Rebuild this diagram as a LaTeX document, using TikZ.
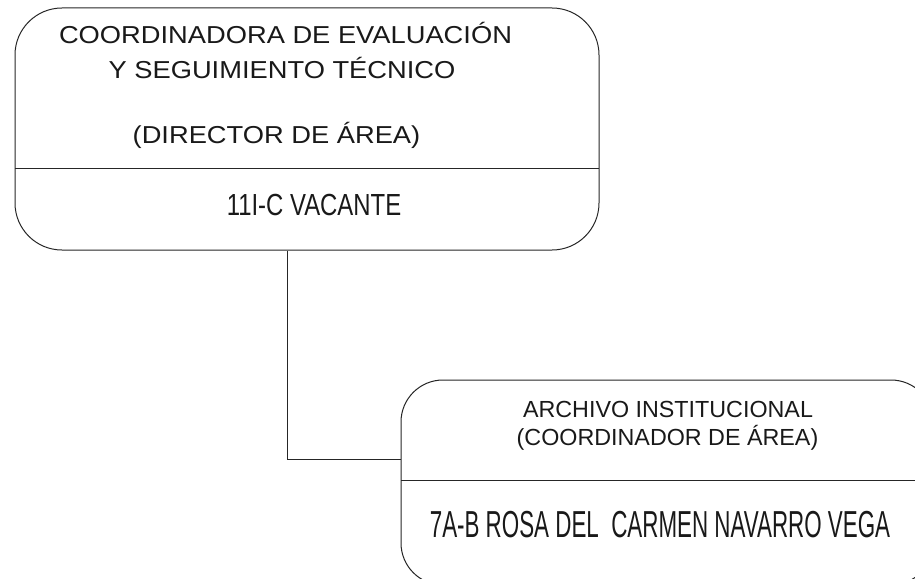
\documentclass[tikz,border=0pt]{standalone}
\usepackage{fontspec}
\setmainfont{Liberation Sans}
\newfontfamily\widefont[FakeStretch=1.114]{Liberation Sans}
\newfontfamily\condfont[FakeStretch=0.784]{Liberation Sans}
\newfontfamily\narrowfont[FakeStretch=0.595]{Liberation Sans}
\usetikzlibrary{calc}
\begin{document}
\begin{tikzpicture}[x=1pt,y=-1pt,
  box/.style={draw=black!85, line width=1pt, rectangle, rounded corners=#1, inner sep=0pt},
  rule/.style={draw=black!85, line width=1pt},
  lbl/.style={anchor=base, inner sep=0pt, text=black!90}]
\useasboundingbox (0,0) rectangle (915,578);
\begin{scope}
\clip (0,0) rectangle (915,578);
% top box
\node[box=47pt, minimum width=584pt, minimum height=242pt] (top) at (307,129) {};
\coordinate (tdl) at (15,168);
\coordinate (tdr) at (599,168);
\draw[rule] (tdl) -- (tdr);
\node[lbl, font=\widefont\fontsize{24.5}{28}\selectfont] (t1) at (285.5,44) {COORDINADORA DE EVALUACIÓN};
\node[lbl, font=\widefont\fontsize{24.5}{28}\selectfont] (t2) at (282,78) {Y SEGUIMIENTO TÉCNICO};
\node[lbl, font=\widefont\fontsize{24.5}{28}\selectfont] (t3) at (276.5,143) {(DIRECTOR DE ÁREA)};
\node[lbl, font=\condfont\fontsize{30.5}{34}\selectfont] (t4) at (314,215) {11I-C VACANTE};
% bottom box
\node[box=42pt, minimum width=532pt, minimum height=205pt] (bot) at (667,482.5) {};
\coordinate (bdl) at (401,480);
\coordinate (bdr) at (933,480);
\draw[rule] (bdl) -- (bdr);
\node[lbl, font=\fontsize{23.3}{27}\selectfont] (b1) at (668,417) {ARCHIVO INSTITUCIONAL};
\node[lbl, font=\fontsize{23.3}{27}\selectfont] (b2) at (667.5,445) {(COORDINADOR DE ÁREA)};
\node[lbl, font=\narrowfont\fontsize{37.6}{42}\selectfont] (b3) at (660,537) {7A-B ROSA DEL \ CARMEN NAVARRO VEGA};
% connector
\coordinate (c1) at ($(top.south)+(-20,0)$);
\coordinate (c2) at ($(bot.west)+(0,-23.5)$);
\draw[rule] (c1) |- (c2);
\end{scope}
\end{tikzpicture}
\end{document}
